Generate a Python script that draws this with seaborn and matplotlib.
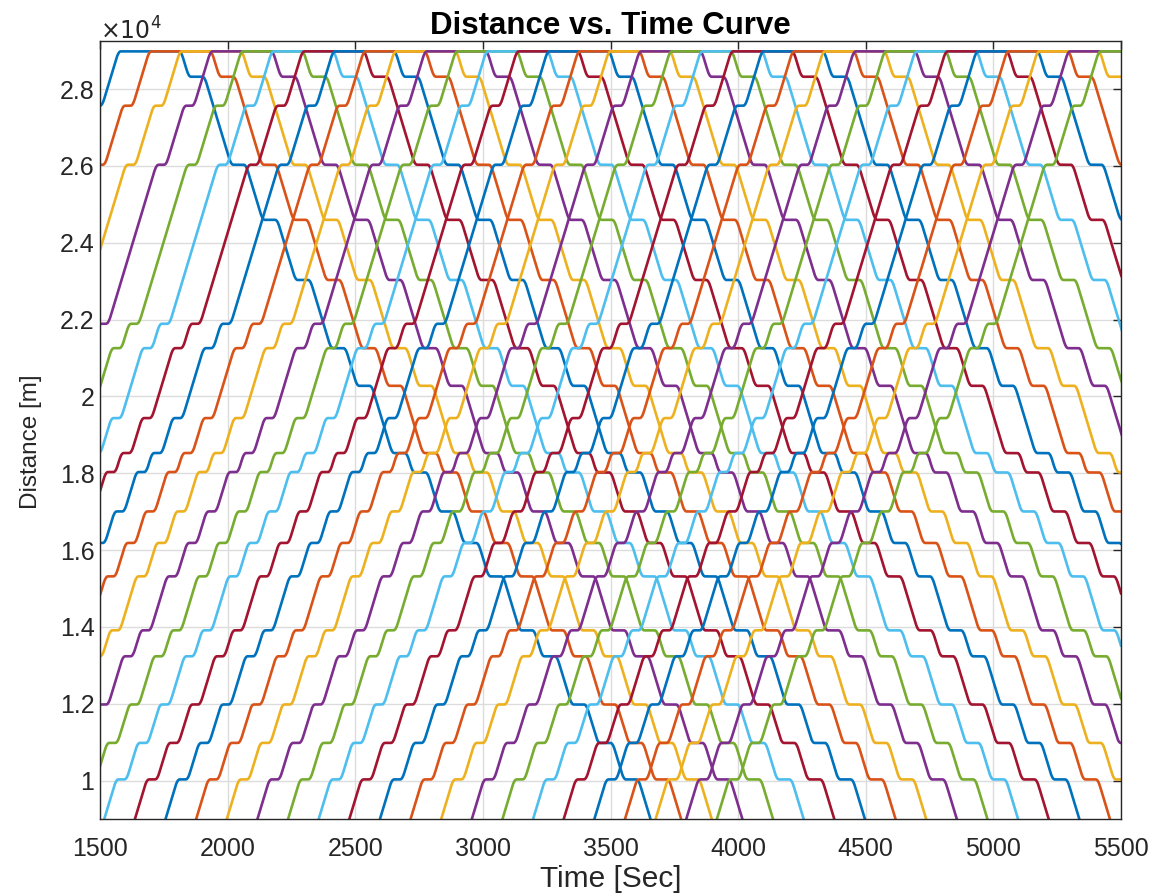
import numpy as np
import pandas as pd
import matplotlib
matplotlib.use("Agg")
import matplotlib.pyplot as plt
import seaborn as sns

# ---------------- data ----------------
# stations served by the up-going run (m) and dwell there (s); last = terminal layover
up_stations = [7500, 10030, 10980, 11980, 13235, 13910, 15315, 16185, 17005,
               18030, 18525, 19435, 21255, 21890, 26030, 27565, 28980]
up_dwell = [0, 24, 24, 22, 22, 22, 22, 22, 22, 22, 22, 22, 22, 22, 22, 22, 228]
# stations served by the down-going run (m) and dwell there (s)
down_stations = [28980, 28320, 26030, 24595, 23030, 21255, 20275, 18525, 18020,
                 17005, 16185, 15315, 13910, 13235, 11980, 10980, 10030, 7500]
down_dwell = [0, 45, 41, 41, 41, 41, 41, 41, 41, 41, 41, 41, 41, 41, 41, 41, 41, 0]

n_trains = 33          # trains in the diagram
headway = 120          # s between consecutive departures
first_departure = 0    # s, departure of the first train from its origin
v_max = 22.0           # m/s cruising speed
accel = 1.3            # m/s^2 acceleration / braking

matlab_colors = ["#0072BD", "#D95319", "#EDB120", "#7E2F8E",
                 "#77AC30", "#4DBEEE", "#A2142F"]

x_ticks = [1500, 2000, 2500, 3000, 3500, 4000, 4500, 5000, 5500]
y_ticks = [10000, 12000, 14000, 16000, 18000, 20000, 22000, 24000, 26000, 28000]
y_tick_labels = ["1", "1.2", "1.4", "1.6", "1.8", "2", "2.2", "2.4", "2.6", "2.8"]


# ---------------- build running curves ----------------
def run_profile(dist, n=40):
    """time samples and covered distance for a start-stop run (trapezoid speed)."""
    if dist >= v_max ** 2 / accel:
        ta = v_max / accel
        vp = v_max
        tc = (dist - v_max ** 2 / accel) / v_max
    else:
        ta = np.sqrt(dist / accel)
        vp = accel * ta
        tc = 0.0
    T = 2 * ta + tc
    tau = np.linspace(0, T, n)
    s = np.where(tau < ta, 0.5 * accel * tau ** 2,
                 np.where(tau < ta + tc, 0.5 * accel * ta ** 2 + vp * (tau - ta),
                          dist - 0.5 * accel * (T - tau) ** 2))
    return tau, s


route = up_stations + down_stations[1:]
dwells = up_dwell + down_dwell[1:]

rows = []
for j in range(n_trains):
    t = first_departure + j * headway
    ts, ds = [t], [route[0]]
    for i in range(1, len(route)):
        d0, d1 = route[i - 1], route[i]
        tau, s = run_profile(abs(d1 - d0))
        sign = 1 if d1 > d0 else -1
        ts.extend(t + tau[1:])
        ds.extend(d0 + sign * s[1:])
        t = t + tau[-1]
        if dwells[i] > 0:
            t = t + dwells[i]
            ts.append(t)
            ds.append(d1)
    ts = np.array(ts)
    ds = np.array(ds)
    keep = (ts > 1300) & (ts < 5700)
    for a, b in zip(ts[keep], ds[keep]):
        rows.append((j, a, b))

df = pd.DataFrame(rows, columns=["train", "t", "d"])
palette = [matlab_colors[j % 7] for j in range(n_trains)]

# ---------------- plot ----------------
sns.set_style("white")
plt.rcParams["font.family"] = ["Liberation Sans", "DejaVu Sans"]

fig = plt.figure(figsize=(11.61, 8.96), dpi=100)
ax = fig.add_axes([100 / 1161, 1 - 819 / 896, 1021 / 1161, 778 / 896])

sns.lineplot(data=df, x="t", y="d", hue="train", palette=palette, legend=False,
             estimator=None, sort=False, linewidth=1.9, ax=ax)

ax.set_xlim(1500, 5500)
ax.set_ylim(9000, 29250)
ax.set_xticks(x_ticks)
ax.set_xticklabels([str(v) for v in x_ticks])
ax.set_yticks(y_ticks)
ax.set_yticklabels(y_tick_labels)
ax.grid(True, color="#dcdcdc", linewidth=1.0)
ax.set_axisbelow(True)
ax.tick_params(direction="in", top=True, right=True, length=6, width=1,
               labelsize=18, colors="#262626")
ax.tick_params(axis="x", pad=13)
ax.tick_params(axis="y", pad=4)
for sp in ax.spines.values():
    sp.set_color("#262626")
    sp.set_linewidth(1.0)

ax.set_xlabel("Time [Sec]", fontsize=21.5, color="#262626", labelpad=3)
ax.set_ylabel("Distance [m]", fontsize=17.5, color="#262626")
ax.yaxis.set_label_coords(-58 / 1021, 0.485)
ax.set_title("Distance vs. Time Curve", fontsize=22.5, fontweight="bold",
             color="black", pad=5)
ax.text(0.0, 0.996, r"$\times10^{4}$", transform=ax.transAxes, fontsize=17,
        color="#262626", ha="left", va="bottom")

fig.savefig("out.png", dpi=100)
